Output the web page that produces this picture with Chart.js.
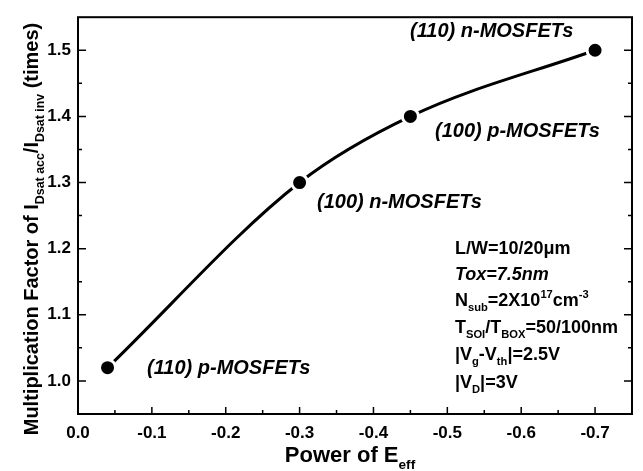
<!DOCTYPE html>
<html>
<head>
<meta charset="utf-8">
<script src="https://cdn.jsdelivr.net/npm/chart.js@4.4.0/dist/chart.umd.min.js"></script>
<style>
  html, body { margin: 0; padding: 0; background: #fff; }
  #chart { display: block; }
</style>
</head>
<body>
<canvas id="chart" width="643" height="471"></canvas>
<script>
// data
const deviceTypes = ['(110) p-MOSFETs', '(100) n-MOSFETs', '(100) p-MOSFETs', '(110) n-MOSFETs'];
const powerOfEeff = [-0.04, -0.30, -0.45, -0.70];
const multFactor = [1.02, 1.30, 1.40, 1.50];

const xTicks = [0, -0.1, -0.2, -0.3, -0.4, -0.5, -0.6, -0.7];
const yTicks = [1.0, 1.1, 1.2, 1.3, 1.4, 1.5];

const FONT = '"Liberation Sans", Arial, sans-serif';

// draws a run of text with sub/superscripts, returns width
function richWidth(ctx, parts, size, style) {
    let w = 0;
    parts.forEach(([t, kind]) => {
        const s = kind ? size * 0.62 : size;
        ctx.font = `${style} ${s}px ${FONT}`;
        w += ctx.measureText(t).width;
    });
    return w;
}

function drawRich(ctx, parts, x, y, size, style = 'bold', align = 'left') {
    let cx = x;
    if (align === 'center') cx = x - richWidth(ctx, parts, size, style) / 2;
    ctx.textBaseline = 'alphabetic';
    ctx.textAlign = 'left';
    parts.forEach(([t, kind]) => {
        const s = kind ? size * 0.62 : size;
        let dy = 0;
        if (kind === 'sub') dy = size * 0.3;
        if (kind === 'sup') dy = -size * 0.42;
        ctx.font = `${style} ${s}px ${FONT}`;
        ctx.fillText(t, cx, y + dy);
        cx += ctx.measureText(t).width;
    });
}

const framePlugin = {
    id: 'frameAndText',
    afterDraw(chart) {
        const ctx = chart.ctx;
        const { left, right, top, bottom } = chart.chartArea;
        const xs = chart.scales.x, ys = chart.scales.y;
        ctx.save();
        ctx.strokeStyle = '#000';
        ctx.fillStyle = '#000';

        // frame
        ctx.lineWidth = 2;
        ctx.strokeRect(left, top, right - left, bottom - top);

        // inward ticks, minor every 0.05
        ctx.lineWidth = 1.5;
        ctx.beginPath();
        for (let i = 0; i <= 15; i++) {
            const v = -i * 0.05;
            const px = xs.getPixelForValue(v);
            const len = i % 2 === 0 ? 7 : 4;
            if (px > left + 1 && px < right - 1) {
                ctx.moveTo(px, bottom);
                ctx.lineTo(px, bottom - len);
            }
        }
        for (let i = 0; i <= 12; i++) {
            const v = 0.95 + i * 0.05;
            const py = ys.getPixelForValue(v);
            const len = i % 2 === 1 ? 8 : 4;
            if (py > top + 1 && py < bottom - 1) {
                ctx.moveTo(left, py);
                ctx.lineTo(left + len, py);
                ctx.moveTo(right, py);
                ctx.lineTo(right - len, py);
            }
        }
        ctx.stroke();

        // axis titles
        drawRich(ctx, [['Power of E', ''], ['eff', 'sub']], 350, 462, 22, 'bold', 'center');

        ctx.save();
        ctx.translate(38, 229);
        ctx.rotate(-Math.PI / 2);
        drawRich(ctx, [
            ['Multiplication Factor of I', ''], ['Dsat acc', 'sub'],
            ['/I', ''], ['Dsat inv', 'sub'], [' (times)', '']
        ], 0, 0, 20, 'bold', 'center');
        ctx.restore();

        // point annotations
        const annot = [[147, 374], [317, 208], [435, 137], [410, 37]];
        deviceTypes.forEach((name, i) => {
            drawRich(ctx, [[name, '']], annot[i][0], annot[i][1], 20, 'italic bold');
        });

        // device parameters
        const px0 = 455;
        drawRich(ctx, [['L/W=10/20\u03bcm', '']], px0, 254, 18);
        drawRich(ctx, [['Tox=7.5nm', '']], px0, 280, 18, 'italic bold');
        drawRich(ctx, [['N', ''], ['sub', 'sub'], ['=2X10', ''], ['17', 'sup'], ['cm', ''], ['-3', 'sup']], px0, 306, 18);
        drawRich(ctx, [['T', ''], ['SOI', 'sub'], ['/T', ''], ['BOX', 'sub'], ['=50/100nm', '']], px0, 333, 18);
        drawRich(ctx, [['|V', ''], ['g', 'sub'], ['-V', ''], ['th', 'sub'], ['|=2.5V', '']], px0, 360, 18);
        drawRich(ctx, [['|V', ''], ['D', 'sub'], ['|=3V', '']], px0, 388, 18);

        ctx.restore();
    }
};

new Chart(document.getElementById('chart'), {
    type: 'line',
    data: {
        datasets: [{
            data: powerOfEeff.map((x, i) => ({ x: x, y: multFactor[i] })),
            borderColor: '#000',
            borderWidth: 3,
            cubicInterpolationMode: 'monotone',
            pointRadius: 8,
            pointBackgroundColor: '#000',
            pointBorderColor: '#fff',
            pointBorderWidth: 3,
            fill: false
        }]
    },
    options: {
        responsive: false,
        animation: false,
        devicePixelRatio: 1,
        layout: { padding: { top: 9, right: 7, left: 0, bottom: 0 } },
        plugins: { legend: { display: false }, tooltip: { enabled: false } },
        scales: {
            x: {
                type: 'linear',
                reverse: true,
                min: -0.75,
                max: 0,
                afterBuildTicks: s => { s.ticks = xTicks.map(v => ({ value: v })); },
                afterFit: s => { s.height = 57; },
                grid: { display: false, drawTicks: false },
                border: { display: false },
                ticks: {
                    color: '#000',
                    font: { family: FONT, size: 17, weight: 'bold' },
                    padding: 9,
                    maxRotation: 0,
                    autoSkip: false,
                    callback: v => v.toFixed(1)
                }
            },
            y: {
                min: 0.95,
                max: 1.55,
                afterBuildTicks: s => { s.ticks = yTicks.map(v => ({ value: v })); },
                afterFit: s => { s.width = 78; },
                grid: { display: false, drawTicks: false },
                border: { display: false },
                ticks: {
                    color: '#000',
                    font: { family: FONT, size: 17, weight: 'bold' },
                    padding: 7,
                    autoSkip: false,
                    callback: v => v.toFixed(1)
                }
            }
        }
    },
    plugins: [framePlugin]
});
</script>
</body>
</html>
